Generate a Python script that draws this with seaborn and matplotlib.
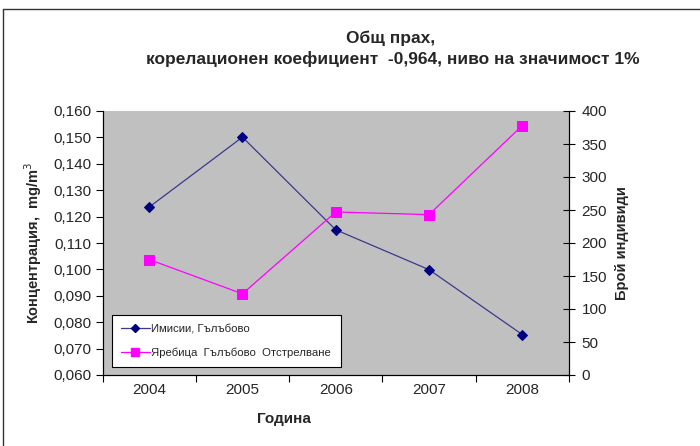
import matplotlib
matplotlib.use("Agg")
import matplotlib.pyplot as plt
from matplotlib.ticker import FuncFormatter, FixedLocator
from matplotlib.lines import Line2D
import seaborn as sns
import pandas as pd

years = ["2004", "2005", "2006", "2007", "2008"]
emissions = [0.1236, 0.1501, 0.1150, 0.0999, 0.0753]   # mg/m3, Гълъбово
partridges = [175, 123, 247, 243, 378]                # shot individuals

sns.set_theme(style="white")
plt.rcParams["font.family"] = ["Liberation Sans", "DejaVu Sans"]

df = pd.DataFrame({"pos": range(len(years)), "year": years,
                   "emis": emissions, "birds": partridges})

W, H = 700, 446
x0, x1, y0, y1 = 102.5, 569, 111, 375
fig = plt.figure(figsize=(W / 100, H / 100), dpi=100)
ax = fig.add_axes([x0 / W, 1 - y1 / H, (x1 - x0) / W, (y1 - y0) / H])
ax.set_facecolor("#C0C0C0")
ax2 = ax.twinx()

blue = "#000080"
magenta = "#FF00FF"

sns.lineplot(data=df, x="pos", y="emis", ax=ax, color="#3A3A8C", lw=0.9,
             marker="D", markersize=5, markerfacecolor=blue,
             markeredgecolor=blue, legend=False)
sns.lineplot(data=df, x="pos", y="birds", ax=ax2, color=magenta, lw=0.9,
             marker="s", markersize=7.5, markerfacecolor=magenta,
             markeredgecolor=magenta, legend=False)

ax.set_xlim(-0.5, len(years) - 0.5)
ax.set_ylim(0.060, 0.160)
ax2.set_ylim(0, 400)

ax.xaxis.set_major_locator(FixedLocator([i - 0.5 for i in range(len(years) + 1)]))
ax.xaxis.set_minor_locator(FixedLocator(list(range(len(years)))))
ax.set_xticklabels([], minor=False)
ax.set_xticklabels(years, minor=True)
ax.tick_params(axis="x", which="major", direction="out", length=5, width=0.8,
               color="black", bottom=True)
ax.tick_params(axis="x", which="minor", length=0, pad=6, labelsize=11)

ax.set_yticks([0.060 + 0.010 * i for i in range(11)])
ax.yaxis.set_major_formatter(FuncFormatter(lambda v, _: f"{v:.3f}".replace(".", ",")))
ax.tick_params(axis="y", direction="out", length=5, width=0.8, color="black",
               left=True, labelsize=11, pad=3)

ax2.set_yticks(range(0, 401, 50))
ax2.tick_params(axis="y", direction="inout", length=8, width=0.8, color="black",
                right=True, labelsize=11, pad=5)

for a in (ax, ax2):
    a.grid(False)
    a.spines["top"].set_visible(False)
    for s in ("left", "right", "bottom"):
        a.spines[s].set_color("black")
        a.spines[s].set_linewidth(0.8)

ax.set_xlabel("Година", fontsize=11, fontweight="bold")
ax.xaxis.set_label_coords((284 - x0) / (x1 - x0), -(412 - y1) / (y1 - y0))
ax.set_ylabel("Концентрация,  mg/m$^3$", fontsize=10.5, fontweight="bold", labelpad=7)
ax2.set_ylabel("Брой индивиди", fontsize=10.5, fontweight="bold", labelpad=6)

fig.text(391 / W, 1 - 38 / H, "Общ прах,", ha="center", va="center",
         fontsize=12.5, fontweight="bold")
fig.text(393 / W, 1 - 59 / H, "корелационен коефициент  -0,964, ниво на значимост 1%",
         ha="center", va="center", fontsize=12.5, fontweight="bold")

handles = [
    Line2D([], [], color="#3A3A8C", lw=0.9, marker="D", markersize=4,
           markerfacecolor=blue, markeredgecolor=blue),
    Line2D([], [], color=magenta, lw=0.9, marker="s", markersize=6,
           markerfacecolor=magenta, markeredgecolor=magenta),
]
lx0, lx1, ly0, ly1 = 112, 341, 310, 367
leg = ax2.legend(handles, ["Имисии, Гълъбово", "Яребица  Гълъбово  Отстрелване"],
                 loc="lower left",
                 bbox_to_anchor=((lx0 - x0) / (x1 - x0), (y1 - ly1) / (y1 - y0),
                                 (lx1 - lx0) / (x1 - x0), (ly1 - ly0) / (y1 - y0)),
                 mode="expand", fontsize=8.2, frameon=True, fancybox=False,
                 borderaxespad=0, handlelength=2.6, handletextpad=0.1,
                 labelspacing=1.25, borderpad=0.75)
leg.get_frame().set_edgecolor("black")
leg.get_frame().set_linewidth(0.8)
leg.get_frame().set_facecolor("white")
leg.get_frame().set_alpha(1)

# chart frame lines along the top and left edges
fig.add_artist(Line2D([3 / W, 1], [1 - 9 / H, 1 - 9 / H],
                      transform=fig.transFigure, color="#333333", lw=1))
fig.add_artist(Line2D([3 / W, 3 / W], [0, 1 - 9 / H],
                      transform=fig.transFigure, color="#333333", lw=1))

fig.savefig("out.png", dpi=100)
